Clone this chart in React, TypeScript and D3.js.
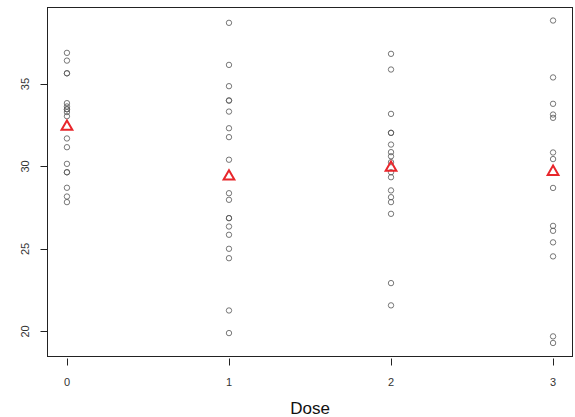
import { useEffect, useRef } from 'react'
import * as d3 from 'd3'

// responses, one list per dose
const dose0 = [36.89, 36.42, 35.65, 35.65, 33.84, 33.64, 33.47, 33.47, 33.3, 33.05, 31.7, 31.17, 30.16, 29.65, 29.65, 28.71, 28.18, 27.84]
const dose1 = [38.71, 36.16, 34.87, 34.0, 34.0, 33.33, 32.32, 31.78, 30.41, 28.38, 27.98, 26.87, 26.87, 26.36, 25.86, 25.01, 24.44, 21.27, 19.9]
const dose2 = [36.83, 35.88, 33.19, 32.04, 32.04, 31.33, 30.87, 30.62, 30.26, 29.65, 29.35, 28.55, 28.14, 27.84, 27.13, 22.93, 21.58]
const dose3 = [38.85, 35.4, 33.8, 33.15, 32.95, 30.85, 30.45, 28.7, 26.4, 26.1, 25.4, 24.55, 19.7, 19.3]
const doses = [0, 1, 2, 3]
const groupMeans = [32.42, 29.4, 29.93, 29.68]
const yTicks = [20, 25, 30, 35]

const App = () => {
  const svgRef = useRef<SVGSVGElement>(null)

  useEffect(() => {
    if (!svgRef.current) return
    const width = 575
    const height = 417
    const margin = { top: 7.5, right: 2.5, bottom: 60.5, left: 47.5 }

    const svg = d3.select(svgRef.current)
    svg.selectAll('*').remove()
    svg.attr('width', width).attr('height', height)

    const x = d3.scaleLinear().domain([-0.12, 3.12]).range([margin.left, width - margin.right])
    const y = d3.scaleLinear().domain([18.48, 39.64]).range([height - margin.bottom, margin.top])

    const groups = [dose0, dose1, dose2, dose3]
    const points = groups.flatMap((vals, i) => vals.map(v => ({ dose: doses[i], value: v })))

    // frame
    svg.append('rect')
      .attr('x', margin.left).attr('y', margin.top)
      .attr('width', width - margin.left - margin.right)
      .attr('height', height - margin.top - margin.bottom)
      .attr('fill', 'none').attr('stroke', '#222').attr('stroke-width', 1)

    // y axis
    const yAxis = svg.append('g')
    yAxis.selectAll('line').data(yTicks).enter().append('line')
      .attr('x1', margin.left - 7).attr('x2', margin.left)
      .attr('y1', d => Math.round(y(d)) + 0.5).attr('y2', d => Math.round(y(d)) + 0.5)
      .attr('stroke', '#222')
    yAxis.selectAll('text').data(yTicks).enter().append('text')
      .attr('transform', d => `translate(29,${y(d)}) rotate(-90)`)
      .attr('text-anchor', 'middle')
      .attr('font-family', 'Liberation Sans, Arial, sans-serif')
      .attr('font-size', 11)
      .attr('fill', '#333')
      .text(d => d)

    // x axis
    const xAxis = svg.append('g')
    const axisY = height - margin.bottom
    xAxis.selectAll('line').data(doses).enter().append('line')
      .attr('x1', d => Math.round(x(d)) + 0.5).attr('x2', d => Math.round(x(d)) + 0.5)
      .attr('y1', axisY + 2).attr('y2', axisY + 9)
      .attr('stroke', '#222')
    xAxis.selectAll('text').data(doses).enter().append('text')
      .attr('x', d => x(d)).attr('y', axisY + 29)
      .attr('text-anchor', 'middle')
      .attr('font-family', 'Liberation Sans, Arial, sans-serif')
      .attr('font-size', 11)
      .attr('fill', '#333')
      .text(d => d)

    svg.append('text')
      .attr('x', (margin.left + width - margin.right) / 2)
      .attr('y', 414)
      .attr('text-anchor', 'middle')
      .attr('font-family', 'Liberation Sans, Arial, sans-serif')
      .attr('font-size', 17)
      .attr('fill', '#111')
      .text('Dose')

    // observations
    svg.append('g').selectAll('circle').data(points).enter().append('circle')
      .attr('cx', d => x(d.dose))
      .attr('cy', d => y(d.value))
      .attr('r', 2.7)
      .attr('fill', 'none')
      .attr('stroke', '#555')
      .attr('stroke-width', 0.8)

    // group means
    const tri = d3.symbol().type(d3.symbolTriangle).size(50)
    svg.append('g').selectAll('path').data(groupMeans).enter().append('path')
      .attr('transform', (d, i) => `translate(${x(doses[i])},${y(d)})`)
      .attr('d', tri())
      .attr('fill', 'none')
      .attr('stroke', '#e8262b')
      .attr('stroke-width', 2)
  }, [])

  return <svg ref={svgRef} style={{ position: 'absolute', left: 0, top: 0 }}></svg>
}

export default App
